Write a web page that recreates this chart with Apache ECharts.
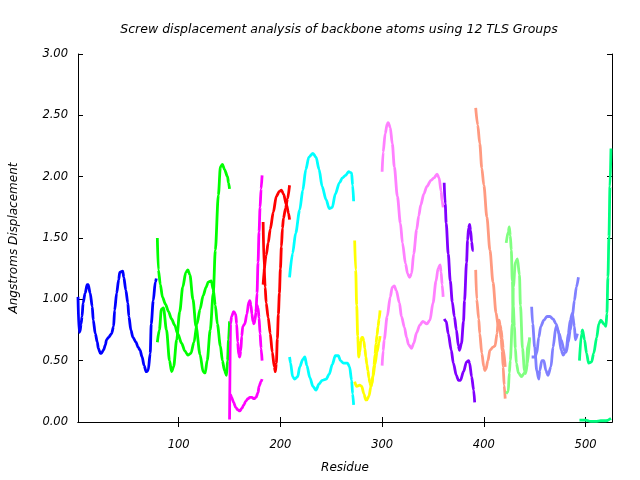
<!DOCTYPE html>
<html>
<head>
<meta charset="utf-8">
<script src="https://cdn.jsdelivr.net/npm/echarts@6/dist/echarts.min.js"></script>
<style>html,body{margin:0;padding:0;background:#fff}#c{width:640px;height:480px}</style>
</head>
<body>
<div id="c"></div>
<script>
const titleText = 'Screw displacement analysis of backbone atoms using 12 TLS Groups';
const xName = 'Residue';
const yName = 'Angstroms Displacement';
const xTicks = [100, 200, 300, 400, 500];
const yTicks = [0, 0.5, 1, 1.5, 2, 2.5, 3];

// group 1 (blue)
const blueA = [[1,1.02],[2,0.73],[3,0.74],[4,0.80],[5,0.86],[6,0.97],[8,1.05],[10,1.12],[11,1.12],[13,1.05],[15,0.94],[16,0.83],[18,0.72],[20,0.65],[21,0.60],[23,0.56],[24,0.56],[26,0.585],[28,0.63],[29,0.67],[31,0.69],[34,0.72],[36,0.78],[37,0.91],[39,1.05],[41,1.16],[42,1.22],[45,1.23],[46,1.18],[48,1.075],[50,0.97],[51,0.86],[53,0.75],[55,0.69],[58,0.65],[60,0.61],[62,0.585],[64,0.53],[66,0.46],[68,0.41],[70,0.42],[72,0.56],[73,0.80],[75,0.99],[77,1.14],[78,1.17]];
// group 2 (green)
const greenA = [[79,1.50],[80,1.24],[82,1.12],[84,1.02],[87,0.96],[90,0.90],[93,0.84],[96,0.79],[99,0.72],[103,0.64],[106,0.58],[109,0.545],[112,0.56],[115,0.65],[118,0.80],[121,0.92],[124,1.03],[127,1.10],[129,1.14],[132,1.15],[134,1.08],[136,0.95],[138,0.80],[141,0.62],[143,0.50],[145,0.42],[147,0.38],[148,0.50],[149,0.67],[150,0.82]];
const greenB = [[79,0.65],[81,0.75],[83,0.92],[85,0.93],[88,0.75],[91,0.50],[93,0.41],[95,0.45],[98,0.67],[101,0.90],[104,1.10],[107,1.22],[109,1.24],[111,1.20],[114,1.00],[117,0.78],[121,0.55],[124,0.41],[126,0.40],[128,0.50],[131,0.75],[134,1.05],[136,1.40],[139,1.85],[141,2.08],[143,2.10],[145,2.06],[148,2.00],[149,1.95],[150,1.90]];
// group 3 (magenta)
const magentaA = [[150,0.02],[151,0.80],[152,0.86],[154,0.90],[156,0.88],[157,0.80],[158,0.65],[159,0.55],[160,0.53],[161,0.58],[162,0.70],[163,0.78],[165,0.80],[167,0.88],[169,0.98],[170,0.99],[171,0.95],[172,0.88],[173,0.82],[174,0.80],[175,0.83],[176,0.90],[177,1.05],[178,1.30],[179,1.55],[180,1.75],[181,1.90],[182,2.01]];
const magentaB = [[150,0.22],[151,0.22],[152,0.20],[154,0.16],[156,0.12],[158,0.10],[160,0.09],[162,0.11],[164,0.14],[166,0.17],[168,0.19],[170,0.20],[172,0.20],[174,0.19],[176,0.20],[178,0.24],[179,0.29],[181,0.33],[182,0.35]];
const magentaC = [[176,0.90],[177,0.95],[178,0.93],[179,0.85],[180,0.72],[181,0.60],[182,0.50]];
// group 4 (red)
const redA = [[183,1.63],[184,1.25],[185,1.10],[186,0.97],[188,0.85],[190,0.72],[192,0.57],[194,0.45],[195,0.41],[196,0.48],[197,0.68],[198,0.88],[199,1.05],[200,1.25],[201,1.43],[202,1.58],[203,1.66],[205,1.74],[207,1.82],[209,1.93]];
const redB = [[183,1.12],[186,1.36],[188,1.46],[190,1.57],[193,1.71],[196,1.84],[199,1.88],[201,1.89],[203,1.86],[206,1.77],[208,1.70],[209,1.65]];
// group 5 (cyan)
const cyanA = [[209,1.18],[212,1.375],[215,1.54],[219,1.73],[222,1.89],[225,2.06],[228,2.16],[232,2.19],[235,2.16],[238,2.06],[241,1.92],[245,1.81],[248,1.74],[251,1.75],[254,1.86],[258,1.95],[261,1.99],[264,2.01],[267,2.04],[270,2.03],[271,1.93],[272,1.80]];
const cyanB = [[209,0.53],[210,0.48],[212,0.37],[214,0.35],[217,0.37],[219,0.45],[222,0.51],[224,0.53],[226,0.46],[229,0.36],[232,0.29],[235,0.26],[238,0.31],[241,0.34],[245,0.35],[248,0.39],[251,0.47],[254,0.54],[257,0.54],[259,0.50],[262,0.48],[266,0.48],[268,0.45],[270,0.34],[271,0.23],[272,0.14]];
// group 6 (yellow)
const yellowA = [[273,1.48],[274,1.24],[275,0.95],[276,0.70],[277,0.53],[278,0.57],[279,0.66],[280,0.69],[281,0.69],[282,0.66],[283,0.60],[284,0.53],[285,0.47],[286,0.42],[287,0.36],[288,0.32],[289,0.29],[290,0.31],[291,0.38],[292,0.46],[293,0.55],[294,0.64],[295,0.71],[296,0.78],[297,0.84],[298,0.91]];
const yellowB = [[273,0.33],[275,0.29],[278,0.30],[280,0.29],[282,0.23],[284,0.18],[285,0.18],[287,0.21],[289,0.29],[291,0.37],[293,0.47],[295,0.57],[297,0.65],[298,0.70]];
// group 7 (pink)
const pinkA = [[300,2.04],[301,2.20],[303,2.35],[305,2.43],[306,2.44],[308,2.40],[310,2.27],[312,2.08],[315,1.84],[318,1.62],[320,1.46],[323,1.29],[325,1.21],[327,1.18],[329,1.21],[331,1.37],[334,1.57],[336,1.68],[338,1.77],[341,1.86],[344,1.92],[348,1.97],[351,1.99],[354,2.02],[356,1.99],[358,1.88],[359,1.80],[360,1.75]];
const pinkB = [[300,0.46],[301,0.58],[302,0.67],[305,0.86],[308,1.02],[310,1.10],[312,1.11],[314,1.07],[317,0.97],[319,0.86],[322,0.77],[324,0.69],[326,0.63],[329,0.60],[331,0.64],[334,0.73],[337,0.79],[340,0.82],[344,0.80],[347,0.83],[350,0.97],[353,1.15],[355,1.25],[357,1.28],[358,1.22],[359,1.12],[360,1.02]];
// group 8 (purple)
const purpleA = [[361,1.95],[362,1.78],[363,1.62],[365,1.37],[367,1.15],[369,0.98],[371,0.86],[373,0.75],[375,0.62],[376,0.585],[378,0.64],[380,0.82],[381,0.99],[383,1.30],[384,1.48],[385,1.58],[386,1.61],[387,1.56],[388,1.47],[389,1.40],[390,1.40]];
const purpleB = [[361,0.84],[363,0.82],[365,0.72],[368,0.585],[370,0.48],[373,0.38],[375,0.34],[377,0.34],[380,0.41],[383,0.49],[385,0.50],[386,0.48],[388,0.37],[390,0.26],[391,0.16]];
// group 9 (salmon)
const salmonA = [[392,2.56],[394,2.42],[396,2.27],[398,2.07],[400,1.93],[403,1.67],[406,1.40],[409,1.14],[412,0.89],[414,0.79],[416,0.74],[417,0.68],[418,0.58],[419,0.45],[420,0.30],[421,0.19]];
const salmonB = [[392,1.24],[393,1.00],[395,0.84],[396,0.72],[398,0.56],[400,0.45],[401,0.42],[402,0.43],[404,0.50],[406,0.585],[409,0.61],[411,0.62],[413,0.72],[414,0.82],[415,0.83],[416,0.79],[417,0.75],[418,0.68],[419,0.60],[421,0.45]];
// group 10 (light green)
const lightGreenA = [[422,1.46],[424,1.55],[425,1.59],[426,1.52],[427,1.40],[428,1.15],[429,0.94],[430,0.78],[431,0.60],[432,0.48],[434,0.40],[437,0.37],[440,0.40],[442,0.45],[443,0.61],[445,0.68]];
const lightGreenB = [[422,0.23],[424,0.25],[425,0.40],[426,0.50],[428,0.80],[429,1.10],[431,1.30],[433,1.33],[435,1.20],[436,0.95],[438,0.60],[440,0.42],[441,0.395],[443,0.48],[445,0.69]];
// group 11 (lavender)
const lavenderA = [[447,0.94],[448,0.80],[450,0.61],[452,0.42],[454,0.35],[455,0.42],[457,0.50],[459,0.50],[461,0.42],[463,0.38],[466,0.45],[468,0.61],[471,0.78],[473,0.75],[476,0.585],[478,0.545],[481,0.585],[483,0.72],[485,0.83],[487,0.885],[489,0.78],[490,0.67],[492,0.72]];
const lavenderB = [[447,0.53],[450,0.53],[452,0.56],[454,0.69],[456,0.78],[459,0.83],[462,0.86],[465,0.86],[468,0.84],[471,0.80],[474,0.72],[476,0.67],[479,0.585],[481,0.57],[483,0.65],[485,0.75],[487,0.86],[489,0.99],[491,1.10],[493,1.18]];
// group 12 (spring green)
const springA = [[494,0.50],[496,0.72],[497,0.75],[499,0.67],[501,0.56],[503,0.48],[506,0.49],[508,0.56],[511,0.69],[513,0.80],[515,0.83],[518,0.80],[520,0.78],[521,0.885],[522,1.18],[523,1.51],[524,1.92],[525,2.23]];
const springB = [[494,0.015],[500,0.015],[505,0.005],[510,0.005],[515,0.01],[520,0.01],[525,0.03]];

const groups = [
  [blueA], [greenA, greenB], [magentaA, magentaB, magentaC], [redA, redB],
  [cyanA, cyanB], [yellowA, yellowB], [pinkA, pinkB], [purpleA, purpleB],
  [salmonA, salmonB], [lightGreenA, lightGreenB], [lavenderA, lavenderB], [springA, springB]
];
const groupColors = ['#0000ff','#00ff00','#ff00ff','#ff0000','#00ffff','#ffff00','#ff80ff','#8000ff','#ff9a80','#80ff80','#8080ff','#00ff80'];

const FONT = 'DejaVu Sans';
const series = [];
groups.forEach((curves, gi) => {
  curves.forEach(c => {
    series.push({
      type: 'line', data: c, showSymbol: false, symbol: 'none',
      smooth: 0.3, smoothMonotone: 'x',
      lineStyle: { color: groupColors[gi], width: 2.8 },
      xAxisIndex: 0, yAxisIndex: 0, silent: true, clip: true
    });
  });
});

const chart = echarts.init(document.getElementById('c'), null, { renderer: 'canvas' });
const axisLine = { show: true, lineStyle: { color: '#000', width: 1 } };
chart.setOption({
  animation: false,
  backgroundColor: '#fff',
  title: {
    text: titleText, left: 334, top: 18, textAlign: 'center',
    textStyle: { fontFamily: FONT, fontStyle: 'italic', fontWeight: 'normal', fontSize: 12.5, color: '#000' }
  },
  grid: { left: 76, right: 28, top: 54, bottom: 58, containLabel: false },
  xAxis: [
    {
      type: 'value', min: 1, max: 526, position: 'bottom',
      name: xName, nameLocation: 'middle', nameGap: 40,
      nameTextStyle: { fontFamily: FONT, fontStyle: 'italic', fontSize: 12, color: '#000' },
      axisLine, splitLine: { show: false },
      axisTick: { inside: true, length: 5, customValues: xTicks, lineStyle: { color: '#000' } },
      axisLabel: { customValues: xTicks, margin: 17, fontFamily: FONT, fontStyle: 'italic', fontSize: 11.5, color: '#000' }
    },
    {
      type: 'value', min: 1, max: 526, position: 'top',
      axisLine, splitLine: { show: false },
      axisTick: { inside: true, length: 5, customValues: xTicks, lineStyle: { color: '#000' } },
      axisLabel: { show: false }
    }
  ],
  yAxis: [
    {
      type: 'value', min: 0, max: 3, interval: 0.5, position: 'left',
      name: yName, nameLocation: 'middle', nameGap: 58, nameRotate: 90,
      nameTextStyle: { fontFamily: FONT, fontStyle: 'italic', fontSize: 12, color: '#000' },
      axisLine, splitLine: { show: false },
      axisTick: { inside: true, length: 5, lineStyle: { color: '#000' } },
      axisLabel: { margin: 10, fontFamily: FONT, fontStyle: 'italic', fontSize: 11.5, color: '#000',
        formatter: v => v.toFixed(2) }
    },
    {
      type: 'value', min: 0, max: 3, interval: 0.5, position: 'right',
      axisLine, splitLine: { show: false },
      axisTick: { inside: true, length: 5, lineStyle: { color: '#000' } },
      axisLabel: { show: false }
    }
  ],
  series
});
</script>
</body>
</html>
